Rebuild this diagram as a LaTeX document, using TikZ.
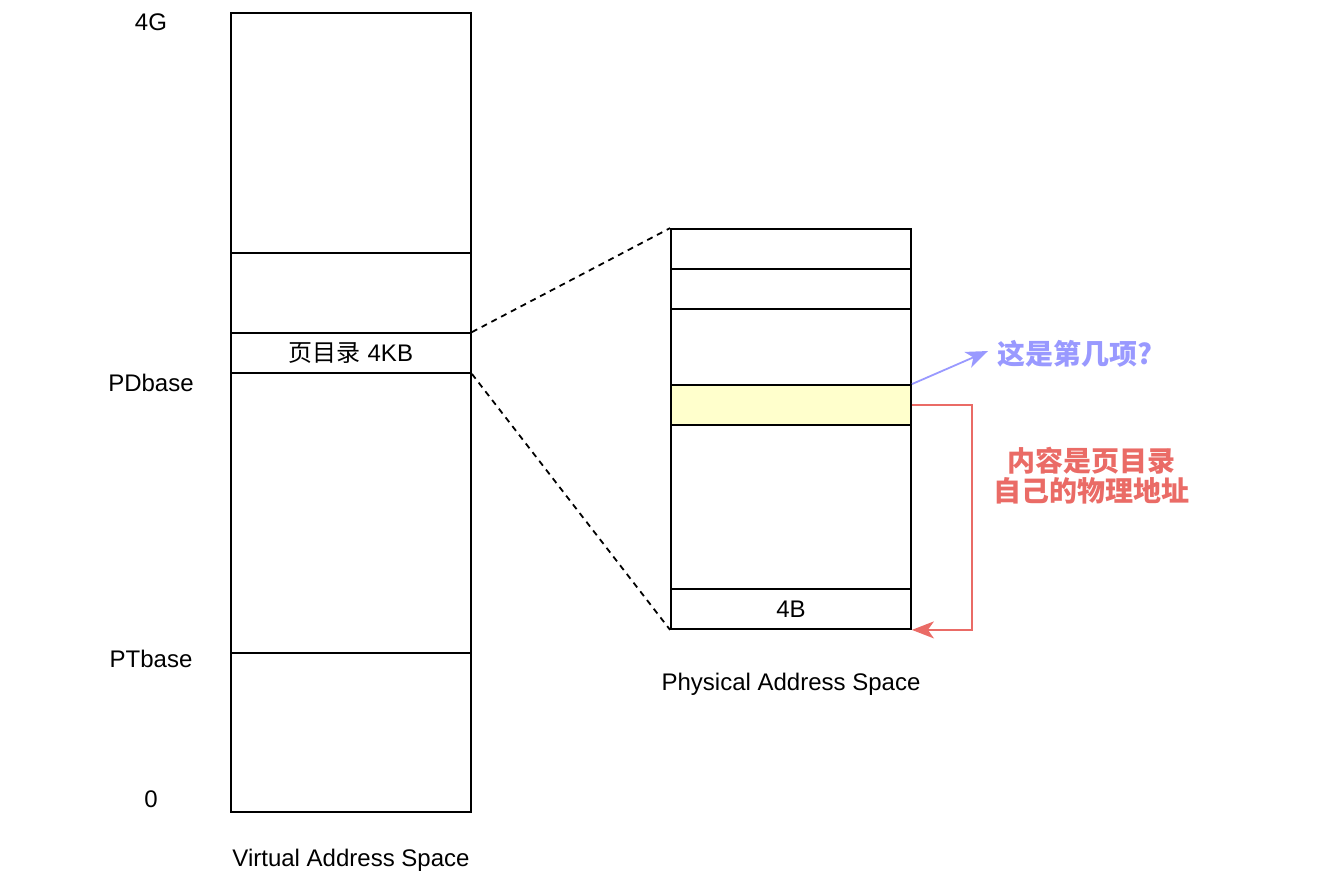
\documentclass[tikz,border=0pt]{standalone}
\usepackage{fontspec}
\setmainfont{Liberation Sans}
\newfontfamily\cjk{Noto Sans CJK SC}
\usetikzlibrary{arrows.meta}
\definecolor{qblue}{HTML}{9999FF}
\definecolor{ared}{HTML}{EA6B66}
\definecolor{hl}{HTML}{FFFFCC}
\tikzset{
  cell/.style={draw=black, line width=1.8pt, inner sep=0pt, minimum width=240pt, font=\fontsize{24}{28}\selectfont},
  lbl/.style={inner sep=0pt, font=\fontsize{24}{28}\selectfont},
  note/.style={inner sep=0pt, align=center, font=\fontsize{28}{30}\selectfont\cjk\bfseries},
  tip/.style={-{Stealth[length=22pt,width=17pt,inset=6pt]}},
}
\begin{document}
\begin{tikzpicture}[x=1pt,y=-1pt]
\useasboundingbox (0,0) rectangle (1322,876);
% virtual address space
\node[cell, minimum height=240pt] (v1) at (351,133) {};
\node[cell, minimum height=80pt] (v2) at (351,293) {};
\node[cell, minimum height=40pt] (v3) at (351,353) {{\cjk 页目录} 4KB};
\node[cell, minimum height=280pt] (v4) at (351,513) {};
\node[cell, minimum height=159pt] (v5) at (351,732.5) {};
% physical address space
\node[cell, minimum height=40pt] (p1) at (791,249) {};
\node[cell, minimum height=40pt] (p2) at (791,289) {};
\node[cell, minimum height=76pt] (p3) at (791,347) {};
\node[cell, minimum height=40pt, fill=hl] (p4) at (791,405) {};
\node[cell, minimum height=164pt] (p5) at (791,507) {};
\node[cell, minimum height=40pt] (p6) at (791,609) {4B};
% labels
\node[lbl] (l4g) at (151,22) {4G};
\node[lbl] (lpd) at (151,383) {PDbase};
\node[lbl] (lpt) at (151,659) {PTbase};
\node[lbl] (l0) at (151,799) {0};
\node[lbl] (lvas) at (351,860) {Virtual Address Space};
\node[lbl] (lpas) at (791,684) {Physical Address Space};
% dashed mapping
\draw[line width=1.8pt, dash pattern=on 6pt off 5pt] (v3.north east) -- (p1.north west);
\draw[line width=1.8pt, dash pattern=on 6pt off 5pt] (v3.south east) -- (p6.south west);
% notes
\node[note, text=qblue, anchor=west] (q) at (997,354) {这是第几项?};
\coordinate (qtip) at (988,351);
\draw[qblue, line width=1.8pt, tip] (p4.north east) -- (qtip);
\node[note, text=ared] (r) at (1091,476) {内容是页目录\\自己的物理地址};
\draw[ared, line width=1.8pt, tip] (p4.east) -- ++(60,0) |- (p6.south east);
\end{tikzpicture}
\end{document}
